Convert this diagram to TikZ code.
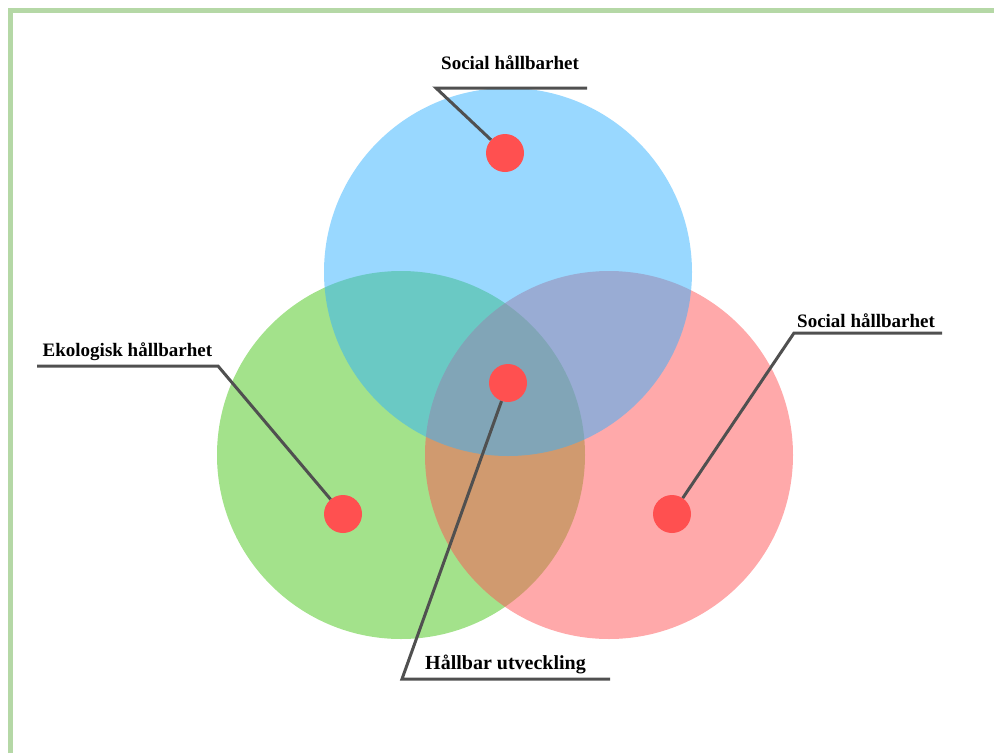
\documentclass[tikz,border=0pt]{standalone}
\usepackage{fontspec}
\setmainfont{Liberation Serif}
\usetikzlibrary{positioning}
\definecolor{frame_green}{RGB}{181,216,166}
\definecolor{ring_blue}{RGB}{51,177,255}
\definecolor{ring_green}{RGB}{71,197,23}
\definecolor{ring_red}{RGB}{255,83,85}
\definecolor{dot_red}{RGB}{255,80,80}
\definecolor{leader_gray}{RGB}{80,80,80}

\begin{document}
\begin{tikzpicture}[
    x=1pt, y=-1pt,
    ring/.style={circle, inner sep=0pt, minimum size=368pt, fill opacity=0.5},
    red_dot/.style={circle, inner sep=0pt, minimum size=38pt, fill=dot_red},
    leader/.style={draw=leader_gray, line width=3pt},
    tag/.style={anchor=base west, inner sep=0pt, font=\fontsize{19}{23}\selectfont\bfseries}
]
\useasboundingbox (0,0) rectangle (994,753);
\draw[frame_green, line width=5pt] (10.5,753) -- (10.5,10.5) -- (994,10.5);

% circles: green, red, blue on top
\node (ring_ekologisk) [ring, fill=ring_green] at (401,455) {};
\node (ring_right) [ring, fill=ring_red] at (609,455) {};
\node (ring_social) [ring, fill=ring_blue] at (508,272) {};

\node (dot_social_top) [red_dot] at (505,153) {};
\node (dot_center) [red_dot] at (508,383) {};
\node (dot_ekologisk) [red_dot] at (343,514) {};
\node (dot_social_right) [red_dot] at (672,514) {};

\node (tag_social_top) [tag] at (441,69) {Social hållbarhet};
\node (tag_ekologisk) [tag] at (42.5,356) {Ekologisk hållbarhet};
\node (tag_social_right) [tag] at (797,327) {Social hållbarhet};
\node (tag_center) [tag, font=\fontsize{20}{24}\selectfont\bfseries] at (425,669) {Hållbar utveckling};

\coordinate (elbow_social_top) at (436,88);
\coordinate (end_social_top) at (587,88);
\coordinate (elbow_ekologisk) at (218,366);
\coordinate (end_ekologisk) at (37,366);
\coordinate (elbow_social_right) at (794,333);
\coordinate (end_social_right) at (942,333);
\coordinate (elbow_center) at (402,679);
\coordinate (end_center) at (610,679);

\draw[leader] (dot_social_top) -- (elbow_social_top) -- (end_social_top);
\draw[leader] (dot_ekologisk) -- (elbow_ekologisk) -- (end_ekologisk);
\draw[leader] (dot_social_right) -- (elbow_social_right) -- (end_social_right);
\draw[leader] (dot_center) -- (elbow_center) -- (end_center);
\end{tikzpicture}
\end{document}
